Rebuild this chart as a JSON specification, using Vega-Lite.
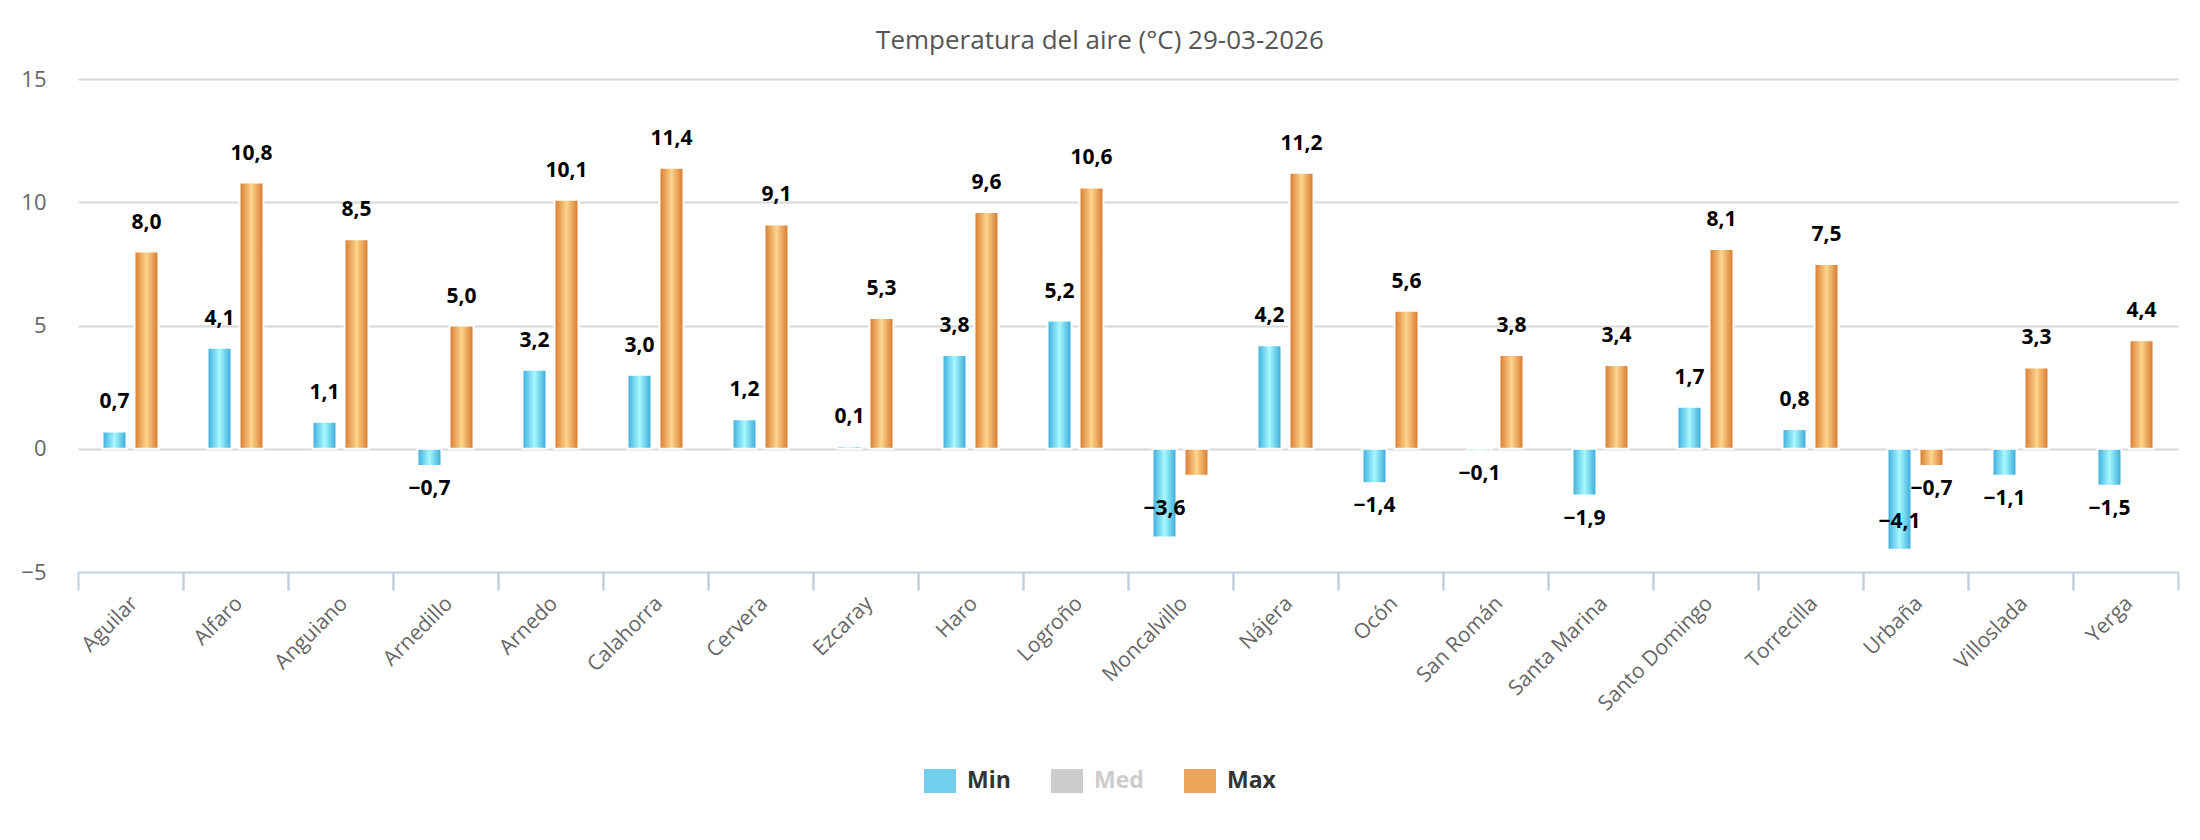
{
  "$schema": "https://vega.github.io/schema/vega-lite/v6.json",
  "width": 2100,
  "height": 493,
  "autosize": {"type": "none"},
  "padding": {"left": 78, "top": 79, "right": 22, "bottom": 268},
  "background": "white",
  "config": {
    "locale": {"number": {"decimal": ",", "thousands": ".", "grouping": [3], "currency": ["", " €"]}},
    "view": {"stroke": null},
    "font": "Open Sans"
  },
  "title": {
    "text": "Temperatura del aire (°C) 29-03-2026",
    "font": "Open Sans",
    "fontSize": 26,
    "fontWeight": "normal",
    "color": "#555555",
    "anchor": "middle",
    "frame": "bounds",
    "baseline": "alphabetic",
    "offset": -7
  },
  "data": {
    "values": [
      {"station": "Aguilar", "series": "Min", "value": 0.7},
      {"station": "Aguilar", "series": "Max", "value": 8.0},
      {"station": "Alfaro", "series": "Min", "value": 4.1},
      {"station": "Alfaro", "series": "Max", "value": 10.8},
      {"station": "Anguiano", "series": "Min", "value": 1.1},
      {"station": "Anguiano", "series": "Max", "value": 8.5},
      {"station": "Arnedillo", "series": "Min", "value": -0.7},
      {"station": "Arnedillo", "series": "Max", "value": 5.0},
      {"station": "Arnedo", "series": "Min", "value": 3.2},
      {"station": "Arnedo", "series": "Max", "value": 10.1},
      {"station": "Calahorra", "series": "Min", "value": 3.0},
      {"station": "Calahorra", "series": "Max", "value": 11.4},
      {"station": "Cervera", "series": "Min", "value": 1.2},
      {"station": "Cervera", "series": "Max", "value": 9.1},
      {"station": "Ezcaray", "series": "Min", "value": 0.1},
      {"station": "Ezcaray", "series": "Max", "value": 5.3},
      {"station": "Haro", "series": "Min", "value": 3.8},
      {"station": "Haro", "series": "Max", "value": 9.6},
      {"station": "Logroño", "series": "Min", "value": 5.2},
      {"station": "Logroño", "series": "Max", "value": 10.6},
      {"station": "Moncalvillo", "series": "Min", "value": -3.6},
      {"station": "Moncalvillo", "series": "Max", "value": -1.1},
      {"station": "Nájera", "series": "Min", "value": 4.2},
      {"station": "Nájera", "series": "Max", "value": 11.2},
      {"station": "Ocón", "series": "Min", "value": -1.4},
      {"station": "Ocón", "series": "Max", "value": 5.6},
      {"station": "San Román", "series": "Min", "value": -0.1},
      {"station": "San Román", "series": "Max", "value": 3.8},
      {"station": "Santa Marina", "series": "Min", "value": -1.9},
      {"station": "Santa Marina", "series": "Max", "value": 3.4},
      {"station": "Santo Domingo", "series": "Min", "value": 1.7},
      {"station": "Santo Domingo", "series": "Max", "value": 8.1},
      {"station": "Torrecilla", "series": "Min", "value": 0.8},
      {"station": "Torrecilla", "series": "Max", "value": 7.5},
      {"station": "Urbaña", "series": "Min", "value": -4.1},
      {"station": "Urbaña", "series": "Max", "value": -0.7},
      {"station": "Villoslada", "series": "Min", "value": -1.1},
      {"station": "Villoslada", "series": "Max", "value": 3.3},
      {"station": "Yerga", "series": "Min", "value": -1.5},
      {"station": "Yerga", "series": "Max", "value": 4.4}
    ]
  },
  "resolve": {"axis": {"x": "independent", "y": "independent"}},
  "layer": [
    {
      "transform": [{"filter": "datum.series === 'Min'"}],
      "mark": {
        "type": "bar", "stroke": "white", "strokeWidth": 2,
        "fill": {"gradient": "linear", "x1": 0, "y1": 0, "x2": 1, "y2": 0,
          "stops": [{"offset": 0, "color": "#38acdb"}, {"offset": 0.5, "color": "#a8f8ff"}, {"offset": 1, "color": "#35a8d8"}]}
      },
      "encoding": {
        "x": {
          "field": "station", "type": "nominal", "sort": null,
          "scale": {"paddingInner": 0, "paddingOuter": 0},
          "axis": {
            "title": null, "orient": "bottom", "bandPosition": 0, "labelOffset": 4,
            "labelAngle": -45, "labelAlign": "right", "labelBaseline": "middle",
            "labelPadding": 10, "labelFont": "Open Sans", "labelFontSize": 21,
            "labelColor": "#666666", "labelOverlap": false, "labelLimit": 0,
            "ticks": true, "tickSize": 18, "tickWidth": 2, "tickColor": "#c0d0e0",
            "domain": true, "domainColor": "#c0d0e0", "domainWidth": 2, "grid": false
          }
        },
        "xOffset": {
          "field": "series", "type": "nominal",
          "scale": {"domain": ["Min", "Max"], "paddingInner": 0.25, "paddingOuter": 0.766}
        },
        "y": {
          "field": "value", "type": "quantitative",
          "scale": {"domain": [-5, 15], "nice": false, "zero": false},
          "axis": {
            "title": null, "orient": "left", "values": [-5, 0, 5, 10, 15], "format": "d",
            "ticks": false, "domain": false, "labelPadding": 32,
            "labelFont": "Open Sans", "labelFontSize": 22, "labelColor": "#666666",
            "grid": true, "gridWidth": 2,
            "gridColor": {"condition": {"test": "datum.value === -5", "value": "transparent"}, "value": "#d8d8d8"}
          }
        }
      }
    },
    {
      "transform": [{"filter": "datum.series === 'Max'"}],
      "mark": {
        "type": "bar", "stroke": "white", "strokeWidth": 2,
        "fill": {"gradient": "linear", "x1": 0, "y1": 0, "x2": 1, "y2": 0,
          "stops": [{"offset": 0, "color": "#d9792e"}, {"offset": 0.5, "color": "#fdd48c"}, {"offset": 1, "color": "#d6762b"}]}
      },
      "encoding": {
        "x": {"field": "station", "type": "nominal", "sort": null, "axis": null},
        "xOffset": {"field": "series", "type": "nominal"},
        "y": {"field": "value", "type": "quantitative", "axis": null}
      }
    },
    {
      "transform": [{"filter": "datum.value >= 0"}],
      "mark": {"type": "text", "font": "Open Sans", "fontWeight": "bold", "fontSize": 21, "color": "#000000", "baseline": "middle", "dy": -29},
      "encoding": {
        "x": {
          "field": "station", "type": "nominal", "sort": null,
          "axis": {
            "title": null, "orient": "bottom", "bandPosition": 1, "labels": false,
            "ticks": true, "tickSize": 18, "tickWidth": 2, "tickColor": "#c0d0e0",
            "domain": false, "grid": false
          }
        },
        "xOffset": {"field": "series", "type": "nominal"},
        "y": {"field": "value", "type": "quantitative", "axis": null},
        "text": {"field": "value", "type": "quantitative", "format": ".1f"}
      }
    },
    {
      "transform": [{"filter": "datum.value < 0 && datum.value > -3 && !(datum.station === 'Moncalvillo' && datum.series === 'Max')"}],
      "mark": {"type": "text", "font": "Open Sans", "fontWeight": "bold", "fontSize": 21, "color": "#000000", "baseline": "middle", "dy": 23},
      "encoding": {
        "x": {"field": "station", "type": "nominal", "sort": null, "axis": null},
        "xOffset": {"field": "series", "type": "nominal"},
        "y": {"field": "value", "type": "quantitative", "axis": null},
        "text": {"field": "value", "type": "quantitative", "format": ".1f"}
      }
    },
    {
      "transform": [{"filter": "datum.value <= -3"}],
      "mark": {"type": "text", "font": "Open Sans", "fontWeight": "bold", "fontSize": 21, "color": "#000000", "baseline": "middle", "dy": -28},
      "encoding": {
        "x": {"field": "station", "type": "nominal", "sort": null, "axis": null},
        "xOffset": {"field": "series", "type": "nominal"},
        "y": {"field": "value", "type": "quantitative", "axis": null},
        "text": {"field": "value", "type": "quantitative", "format": ".1f"}
      }
    },
    {
      "mark": {"type": "text", "text": ""},
      "encoding": {
        "color": {
          "field": "series", "type": "nominal",
          "scale": {"domain": ["Min", "Med", "Max"], "range": ["#6fcfec", "#cccccc", "#eba65c"]},
          "legend": {
            "orient": "none", "legendX": 846, "legendY": 686, "direction": "horizontal",
            "title": null, "symbolType": "M-1,-0.75H1V0.75H-1Z", "symbolSize": 1024,
            "symbolStrokeWidth": 0, "symbolOpacity": 1,
            "labelFont": "Open Sans", "labelFontSize": 23, "labelFontWeight": "bold",
            "labelOffset": 11, "columnPadding": 40, "padding": 0, "labelLimit": 0,
            "encode": {
              "symbols": {"update": {
                "fill": {"signal": "datum.value === 'Min' ? {gradient: 'linear', x1: 0, y1: 0, x2: 1, y2: 0, stops: [{offset: 0, color: '#38acdb'}, {offset: 0.5, color: '#a8f8ff'}, {offset: 1, color: '#35a8d8'}]} : datum.value === 'Max' ? {gradient: 'linear', x1: 0, y1: 0, x2: 1, y2: 0, stops: [{offset: 0, color: '#d9792e'}, {offset: 0.5, color: '#fdd48c'}, {offset: 1, color: '#d6762b'}]} : '#cccccc'"},
                "opacity": {"value": 1},
                "strokeWidth": {"value": 0}
              }},
              "labels": {"update": {"fill": {"signal": "datum.label === 'Med' ? '#cccccc' : '#333333'"}}}
            }
          }
        }
      }
    }
  ]
}
